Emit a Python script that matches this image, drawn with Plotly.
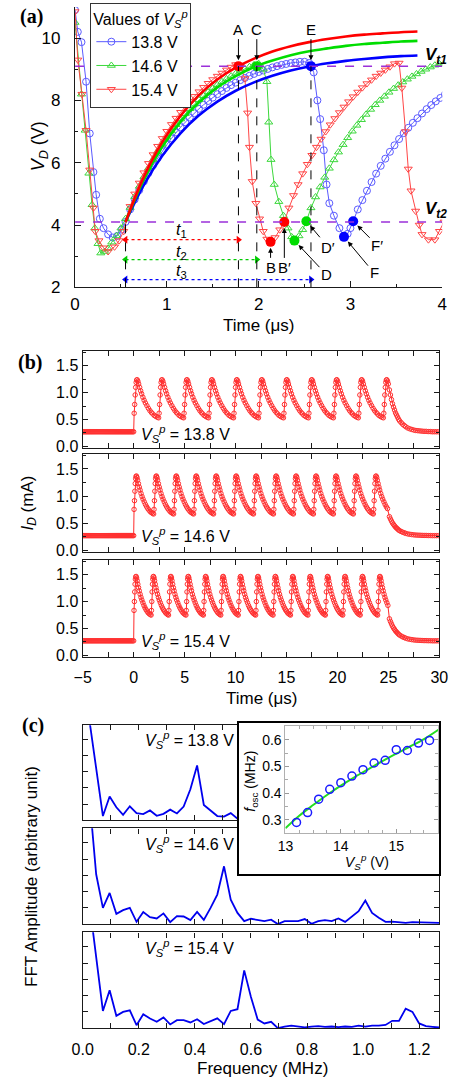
import numpy as np
import plotly.graph_objects as go

W, H = 456, 1090
FONT = "Liberation Sans, Arial, sans-serif"
SERIF = "Liberation Serif, Times New Roman, serif"
AXC = "#1a1a1a"


def grid(t0, n, step=0.05):
    return [round(t0 + step * i, 3) for i in range(n)]


def dx(a, b):
    return [a / W, b / W]


def dy(top, bot):
    return [1 - bot / H, 1 - top / H]

# ---------------- panel (a): V_D vs time ----------------
a_names = ["13.8 V", "14.6 V", "15.4 V"]

blue_t = ([0.00, 0.03, 0.07, 0.12, 0.16, 0.20, 0.23, 0.27, 0.31, 0.36, 0.41, 0.46, 0.51, 0.55]
          + grid(0.60, 40)
          + [2.60, 2.64, 2.67, 2.71, 2.74, 2.77, 2.82, 2.88, 2.93, 2.97, 3.00, 3.03]
          + grid(3.08, 20))
blue_v = ([10.9, 10.2, 9.87, 8.6, 6.94, 5.7, 4.97, 4.2, 3.9, 3.7, 3.6, 3.65, 3.85, 4.1]
          + [4.50, 4.82, 5.12, 5.40, 5.67, 5.92, 6.15, 6.37, 6.58, 6.78,
             6.97, 7.14, 7.30, 7.45, 7.59, 7.73, 7.86, 7.98, 8.09, 8.20,
             8.30, 8.40, 8.49, 8.57, 8.65, 8.72, 8.79, 8.85, 8.91, 8.96,
             9.01, 9.06, 9.10, 9.14, 9.17, 9.20, 9.22, 9.24, 9.24, 9.20]
          + [8.9, 8.0, 7.4, 6.4, 5.3, 4.7, 4.3, 3.9, 3.62, 3.72, 3.9, 4.12]
          + [4.5, 4.8, 5.1, 5.38, 5.65, 5.9, 6.13, 6.35, 6.56, 6.76,
             6.95, 7.12, 7.28, 7.43, 7.58, 7.72, 7.85, 7.97, 8.08, 8.19])

green_t = ([0.00, 0.07, 0.11, 0.15, 0.185, 0.215, 0.25, 0.28, 0.32, 0.36, 0.40, 0.45, 0.50, 0.55]
           + grid(0.60, 29)
           + [2.05, 2.09, 2.11, 2.135, 2.17, 2.22, 2.27, 2.32, 2.36, 2.39, 2.44, 2.48, 2.52]
           + grid(2.57, 30))
green_v = ([10.5, 8.2, 7.04, 5.66, 4.65, 3.9, 3.4, 3.1, 3.15, 3.25, 3.45, 3.65, 3.9, 4.2]
           + [4.56, 4.91, 5.24, 5.55, 5.83, 6.10, 6.36, 6.59, 6.82, 7.02,
              7.22, 7.40, 7.57, 7.73, 7.88, 8.02, 8.15, 8.27, 8.39, 8.50,
              8.60, 8.69, 8.78, 8.86, 8.94, 9.01, 9.08, 9.14, 9.18]
           + [9.0, 8.6, 7.3, 6.1, 5.3, 4.75, 4.3, 3.9, 3.62, 3.5, 3.65, 3.85, 4.12]
           + [4.55, 4.9, 5.22, 5.53, 5.82, 6.09, 6.34, 6.58, 6.8, 7.01,
              7.2, 7.38, 7.55, 7.71, 7.86, 8.0, 8.13, 8.26, 8.38, 8.49,
              8.59, 8.68, 8.77, 8.85, 8.93, 9.0, 9.07, 9.13, 9.17, 9.2])

red_t = ([0.00, 0.03, 0.075, 0.12, 0.16, 0.20, 0.22, 0.26, 0.31, 0.36, 0.43, 0.48, 0.53]
         + grid(0.60, 24)
         + [1.80, 1.85, 1.88, 1.90, 1.93, 1.97, 2.01, 2.05, 2.09, 2.13, 2.18, 2.23, 2.28]
         + grid(2.33, 24)
         + [3.53, 3.56, 3.60, 3.63, 3.66, 3.71, 3.75, 3.78, 3.85, 3.92, 3.97, 4.02])
red_v = ([10.85, 9.3, 8.2, 7.04, 5.77, 4.55, 3.8, 3.5, 3.27, 3.15, 3.3, 3.5, 3.8]
         + [4.6, 5.0, 5.35, 5.68, 5.98, 6.26, 6.53, 6.78, 7.01, 7.23,
            7.43, 7.62, 7.80, 7.97, 8.13, 8.28, 8.42, 8.55, 8.67, 8.78,
            8.88, 8.98, 9.07, 9.15]
         + [9.1, 8.7, 7.6, 6.5, 5.4, 4.7, 4.2, 3.8, 3.55, 3.46, 3.6, 3.85, 4.1]
         + [4.55, 4.95, 5.3, 5.65, 5.95, 6.24, 6.5, 6.76, 7.0, 7.22,
            7.42, 7.61, 7.79, 7.96, 8.12, 8.27, 8.41, 8.54, 8.66, 8.78,
            8.88, 8.98, 9.08, 9.18]
         + [9.2, 8.4, 7.0, 5.8, 5.1, 4.45, 4.0, 3.7, 3.53, 3.53, 3.8, 4.1])

fit_t = [0.55, 0.75, 0.95, 1.15, 1.35, 1.55, 1.75, 1.95, 2.15, 2.35, 2.55, 2.75, 2.95, 3.15, 3.35, 3.55, 3.73]
fit_blue = [4.10, 5.29, 6.22, 6.95, 7.52, 7.96, 8.31, 8.58, 8.79, 8.96, 9.09, 9.19, 9.27, 9.33, 9.38, 9.42, 9.44]
fit_green = [4.10, 5.46, 6.51, 7.32, 7.94, 8.42, 8.78, 9.07, 9.28, 9.45, 9.58, 9.67, 9.75, 9.81, 9.85, 9.89, 9.91]
fit_red = [4.10, 5.55, 6.66, 7.51, 8.17, 8.67, 9.05, 9.34, 9.57, 9.74, 9.87, 9.97, 10.05, 10.11, 10.15, 10.19, 10.21]

V_T1 = 9.1
V_T2 = 4.1
T_START = 0.55
t_ends = [1.78, 1.98, 2.57]          # end of t1, t2, t3
t_arrow_v = [3.53, 2.89, 2.25]       # height of t1,t2,t3 arrows
t_label_v = [3.82, 3.11, 2.52]

pt_names = ["A", "B", "B′", "C", "D", "D′", "E", "F", "F′"]
pt_t = [1.78, 2.13, 2.28, 1.98, 2.39, 2.52, 2.57, 2.93, 3.03]
pt_v = [9.1, 3.46, 4.1, 9.1, 3.5, 4.12, 9.1, 3.62, 4.12]
pt_series = [2, 2, 2, 1, 1, 1, 0, 0, 0]
pt_ax = [0, 0, 0, 0, 32, 22, 0, 30, 24]
pt_ay = [-37, 26, 46, -37, 34, 26, -37, 36, 24]

# ---------------- panel (b): I_D vs time ----------------
b_names = ["13.8 V", "14.6 V", "15.4 V"]
b_period = [2.45, 1.96, 1.71]
b_ncycles = [11, 13, 15]
b_min = [0.53, 0.67, 0.75]
b_peak = [1.24, 1.37, 1.47]
b_base = 0.27
b_off = [25.05, 25.0, 25.0]
b_tail_start = [1.05, 0.62, 0.68]
cyc_phase = [0.00, 0.02, 0.04, 0.06, 0.08, 0.10, 0.12, 0.14, 0.17, 0.20, 0.24, 0.28,
             0.32, 0.37, 0.42, 0.47, 0.53, 0.59, 0.65, 0.71, 0.77, 0.83, 0.89, 0.95]
cyc_level = [0.00, 0.12, 0.35, 0.60, 0.80, 0.93, 0.99, 1.00, 0.96, 0.89, 0.80, 0.71,
             0.63, 0.54, 0.46, 0.39, 0.32, 0.25, 0.19, 0.14, 0.10, 0.06, 0.035, 0.015]
tail_dt = [0, .1, .2, .3, .4, .5, .6, .7, .8, .9, 1.0, 1.15, 1.3, 1.45, 1.6, 1.8, 2.0,
           2.2, 2.4, 2.6, 2.8, 3.0, 3.2, 3.4, 3.6, 3.8, 4.0, 4.2, 4.4, 4.6, 4.8]
tail_level = [1.0, 0.88, 0.77, 0.67, 0.59, 0.52, 0.45, 0.40, 0.35, 0.30, 0.26, 0.22, 0.18,
              0.15, 0.12, 0.09, 0.07, 0.055, 0.04, 0.03, 0.025, 0.02, 0.015, 0.01, 0.01,
              0.005, 0.005, 0.0, 0.0, 0.0, 0.0]

# ---------------- panel (c): FFT spectra ----------------
c_names = ["13.8 V", "14.6 V", "15.4 V"]
fft_f = [round(0.024 * k, 3) for k in range(1, 54)]
fft_138 = [6.2, 3.13, 0.25, 1.47, 0.8, 0.33, 0.86, 0.43, 0.37, 0.6, 0.27, 0.39, 0.65, 0.41,
           0.84, 1.92, 3.4, 0.94, 0.6, 0.25, 0.22, 0.43, 0.08,
           0.3, 0.2, 0.15, 0.1, 0.2, 0.12, 0.1, 0.15, 0.35, 0.7, 1.1, 0.5, 0.2, 0.1, 0.12,
           0.08, 0.1, 0.06, 0.08, 0.1, 0.06, 0.05, 0.08, 0.06, 0.05, 0.04, 0.06, 0.05, 0.04, 0.03]
fft_146 = [7.8, 3.07, 1.0, 1.92, 0.63, 0.86, 1.0, 0.14, 0.74, 0.43, 0.35, 0.66, 0.12, 0.49,
           0.47, 0.25, 0.75, 0.26, 1.0, 1.82, 3.56, 1.51, 0.69, 0.18, 0.33, 0.25, 0.18, 0.27,
           0.0, 0.18, 0.18, 0.18, 0.31, 0.02, 0.18, 0.25, 0.18, 0.35, 0.14, 0.49, 0.8, 1.45,
           0.69, 0.39, 0.14, 0.15, 0.12, 0.08, 0.12, 0.1, 0.12, 0.1, 0.08]
fft_154 = [7.7, 4.5, 1.06, 2.33, 0.76, 1.0, 1.1, 0.18, 0.86, 0.59, 0.39, 0.66, 0.23, 0.49,
           0.49, 0.35, 0.55, 0.25, 0.45, 0.6, 0.25, 1.06, 1.17, 3.56, 1.92, 0.53, 0.29, 0.39,
           0.0, 0.1, 0.15, 0.12, 0.05, 0.1, 0.12, 0.08, 0.1, 0.06, 0.1, 0.08, 0.15, 0.1, 0.15,
           0.15, 0.2, 0.45, 0.45, 1.2, 1.0, 0.29, 0.12, 0.08, 0.04]

# inset: f_osc vs V_S^p
ins_vs = [13.2, 13.4, 13.6, 13.8, 14.0, 14.2, 14.4, 14.6, 14.8, 15.0, 15.2, 15.4, 15.6]
ins_f = [0.290, 0.327, 0.377, 0.414, 0.439, 0.464, 0.488, 0.513, 0.523, 0.563, 0.560, 0.588, 0.598]
ins_fit_vs = [13.0, 13.25, 13.5, 13.75, 14.0, 14.25, 14.5, 14.75, 15.0, 15.25, 15.5, 15.76]
ins_fit_f = [0.268, 0.315, 0.355, 0.393, 0.428, 0.46, 0.49, 0.52, 0.548, 0.575, 0.603, 0.638]

# ================= figure =================
fig = go.Figure()
data_cols = ["#5a5aff", "#3cd83c", "#ff4545"]
fit_cols = ["#0000ff", "#00dd00", "#ff0000"]
syms = ["circle-open", "triangle-up-open", "triangle-down-open"]

for nm, t, v, c, s in zip(a_names, [blue_t, green_t, red_t], [blue_v, green_v, red_v], data_cols, syms):
    fig.add_trace(go.Scatter(x=t, y=v, mode="lines+markers", name=nm,
                             line=dict(color=c, width=1),
                             marker=dict(symbol=s, size=7, color=c, line=dict(width=1, color=c)),
                             xaxis="x", yaxis="y"))
for v, c in zip([fit_blue, fit_green, fit_red], fit_cols):
    fig.add_trace(go.Scatter(x=fit_t, y=v, mode="lines", showlegend=False,
                             line=dict(color=c, width=2.6, shape="spline"), xaxis="x", yaxis="y"))

# t1,t2,t3 arrows
arrow_cols = ["#ff0000", "#00cc00", "#0000ff"]
for i in range(3):
    fig.add_trace(go.Scatter(x=[T_START, t_ends[i]], y=[t_arrow_v[i], t_arrow_v[i]],
                             mode="lines+markers", showlegend=False,
                             line=dict(color=arrow_cols[i], width=1.3, dash="dot"),
                             marker=dict(symbol=["triangle-left", "triangle-right"], size=7,
                                         color=arrow_cols[i]),
                             xaxis="x", yaxis="y"))

# marked points
fig.add_trace(go.Scatter(x=pt_t, y=pt_v, mode="markers", showlegend=False,
                         marker=dict(size=10, color=[fit_cols[k] for k in pt_series]),
                         xaxis="x", yaxis="y"))

# ---- (b) traces ----
for i in range(3):
    ts = list(np.round(np.arange(-5.0, 0.0, 0.1), 2))
    vs = [b_base] * len(ts)
    P = b_period[i]
    for n in range(b_ncycles[i]):
        for ph, lv in zip(cyc_phase, cyc_level):
            t = n * P + ph * P
            if t > b_off[i]:
                break
            lo = b_base if (n == 0 and ph == 0) else b_min[i]
            ts.append(t)
            vs.append(lo + lv * (b_peak[i] - lo))
    for dt_, lv in zip(tail_dt, tail_level):
        ts.append(25.1 + dt_)
        vs.append(b_base + lv * (b_tail_start[i] - b_base))
    ax = str(i + 2)
    fig.add_trace(go.Scatter(x=ts, y=vs, mode="lines+markers", showlegend=False,
                             line=dict(color="#ff2a2a", width=1),
                             marker=dict(symbol="circle-open", size=4.5, color="#ff3030",
                                         line=dict(width=1)),
                             xaxis="x" + ax, yaxis="y" + ax))

# ---- (c) traces ----
for i, spec in enumerate([fft_138, fft_146, fft_154]):
    ax = str(i + 5)
    fig.add_trace(go.Scatter(x=fft_f, y=spec, mode="lines", showlegend=False,
                             line=dict(color="#0000ee", width=1.8),
                             xaxis="x" + ax, yaxis="y" + ax))

# dummy subplot carrying the inset box
fig.add_trace(go.Scatter(x=[None], y=[None], showlegend=False, xaxis="x8", yaxis="y8"))

# inset
fig.add_trace(go.Scatter(x=ins_fit_vs, y=ins_fit_f, mode="lines", showlegend=False,
                         line=dict(color="#22dd22", width=2, shape="spline"), xaxis="x9", yaxis="y9"))
fig.add_trace(go.Scatter(x=ins_vs, y=ins_f, mode="markers", showlegend=False,
                         marker=dict(symbol="circle-open", size=8, color="#1a1aff",
                                     line=dict(width=1.5)),
                         xaxis="x9", yaxis="y9"))


def axis(**kw):
    d = dict(showline=True, linecolor=AXC, linewidth=1.4, ticks="inside", tickcolor=AXC,
             tickwidth=1.2, ticklen=5, showgrid=False, zeroline=False,
             tickfont=dict(family=FONT, size=16, color="black"))
    d.update(kw)
    return d


lay = {}
# (a)
lay["xaxis"] = axis(domain=dx(67, 451), range=[0, 4], anchor="y", dtick=1, tick0=0, ticklen=6,
                    minor=dict(dtick=0.5, tick0=0, ticklen=3, ticks="inside", tickcolor=AXC),
                    tickfont=dict(family=FONT, size=17, color="black"), ticklabelstandoff=1)
lay["yaxis"] = axis(domain=dy(7, 290), range=[2, 11], anchor="x", dtick=2, tick0=0, ticklen=6,
                    minor=dict(dtick=1, tick0=0, ticklen=3, ticks="inside", tickcolor=AXC),
                    tickfont=dict(family=FONT, size=17, color="black"), ticklabelstandoff=10)
# (b)
b_rows = [(354, 452), (458, 557), (565, 663)]
for i, (top, bot) in enumerate(b_rows):
    n = str(i + 2)
    lay["xaxis" + n] = axis(domain=dx(75, 448), range=[-5, 30], anchor="y" + n, dtick=5, tick0=0,
                            mirror="allticks", showticklabels=(i == 2), ticklabelstandoff=6,
                            minor=dict(dtick=2.5, tick0=0, ticklen=5, ticks="inside", tickcolor=AXC))
    lay["yaxis" + n] = axis(domain=dy(top, bot), range=[-0.03, 1.78], anchor="x" + n, dtick=0.5,
                            tick0=0, tickformat=".1f", mirror="allticks",
                            minor=dict(dtick=0.25, tick0=0, ticklen=3, ticks="inside", tickcolor=AXC))
# (c)
c_rows = [(732, 828), (836, 933), (941, 1038)]
for i, (top, bot) in enumerate(c_rows):
    n = str(i + 5)
    lay["xaxis" + n] = axis(domain=dx(75, 448), range=[0, 1.272], anchor="y" + n, dtick=0.2, tick0=0,
                            tickformat=".1f", mirror="allticks", showticklabels=(i == 2),
                            ticklabelstandoff=6,
                            minor=dict(dtick=0.1, tick0=0, ticklen=5, ticks="inside", tickcolor=AXC))
    lay["yaxis" + n] = axis(domain=dy(top, bot), range=[-0.02, 5.9], anchor="x" + n, dtick=1, tick0=0,
                            showticklabels=False, mirror="allticks")
# inset box
lay["xaxis8"] = dict(domain=dx(238, 448), range=[0, 1], anchor="y8", showline=True, mirror=True,
                     linecolor="black", linewidth=1.5, ticks="", showticklabels=False,
                     showgrid=False, zeroline=False)
lay["yaxis8"] = dict(domain=dy(730, 882), range=[0, 1], anchor="x8", showline=True, mirror=True,
                     linecolor="black", linewidth=1.5, ticks="", showticklabels=False,
                     showgrid=False, zeroline=False)
# inset axes
lay["xaxis9"] = axis(domain=dx(287, 447), range=[13, 15.76], anchor="y9", dtick=1, tick0=13,
                     linecolor="#b0b0b0", linewidth=1, tickcolor="#999999", ticklen=4, mirror="allticks",
                     minor=dict(dtick=0.25, tick0=13, ticklen=3, ticks="inside", tickcolor="#aaaaaa"),
                     tickfont=dict(family=FONT, size=14, color="black"), ticklabelstandoff=0)
lay["yaxis9"] = axis(domain=dy(733, 841), range=[0.249, 0.651], anchor="x9", dtick=0.1, tick0=0,
                     tickformat=".1f", linecolor="#b0b0b0", linewidth=1, tickcolor="#999999",
                     ticklen=4, mirror="allticks",
                     minor=dict(dtick=0.05, tick0=0, ticklen=3, ticks="inside", tickcolor="#aaaaaa"),
                     tickfont=dict(family=FONT, size=14, color="black"))

fig.update_layout(**lay)

shapes = []
# V_t1, V_t2 lines
for vv in [V_T1, V_T2]:
    shapes.append(dict(type="line", xref="x", yref="y", x0=0, x1=4, y0=vv, y1=vv,
                       line=dict(color="#9b30d9", width=1.5, dash="dash"), layer="above"))
# vertical dashed lines
shapes.append(dict(type="line", xref="x", yref="y", x0=T_START, x1=T_START, y0=2, y1=V_T2,
                   line=dict(color="black", width=1, dash="dash"), layer="above"))
for te in t_ends:
    shapes.append(dict(type="line", xref="x", yref="y", x0=te, x1=te, y0=2, y1=V_T1,
                       line=dict(color="black", width=1, dash="dash"), layer="above"))
# white fill of inset box
shapes.append(dict(type="rect", xref="x8", yref="y8", x0=0, x1=1, y0=0, y1=1,
                   fillcolor="white", line=dict(width=0), layer="below"))

ann = []


def txt(x, y, s, size=17, ang=0, xa="center", fam=FONT, ya="middle"):
    ann.append(dict(x=x / W, y=1 - y / H, xref="paper", yref="paper", text=s, showarrow=False,
                    textangle=ang, xanchor=xa, yanchor=ya,
                    font=dict(family=fam, size=size, color="black")))


# point labels with arrows
for i, nm in enumerate(pt_names):
    ann.append(dict(x=pt_t[i], y=pt_v[i], xref="x", yref="y", text=nm, showarrow=True,
                    ax=pt_ax[i], ay=pt_ay[i], arrowhead=2, arrowsize=1, arrowwidth=1,
                    arrowcolor="black", standoff=6, font=dict(family=FONT, size=15, color="black")))
# t labels
for i in range(3):
    ann.append(dict(x=1.16, y=t_label_v[i], xref="x", yref="y", showarrow=False,
                    text="<i>t</i><sub>%d</sub>" % (i + 1),
                    font=dict(family=FONT, size=16, color="black")))
ann.append(dict(x=3.93, y=9.42, xref="x", yref="y", showarrow=False,
                text="<b><i>V</i><sub><i>t1</i></sub></b>", font=dict(family=FONT, size=17, color="black")))
ann.append(dict(x=3.93, y=4.48, xref="x", yref="y", showarrow=False,
                text="<b><i>V</i><sub><i>t2</i></sub></b>", font=dict(family=FONT, size=17, color="black")))

txt(259, 329, "Time (μs)")
txt(30, 148, "<i>V</i><sub><i>D</i></sub> (V)", size=18, ang=-90)
txt(263, 705, "Time (μs)")
txt(19, 508, "<i>I</i><sub><i>D</i></sub> (mA)", ang=-90)
txt(263, 1078, "Frequency (MHz)")
txt(22, 885, "FFT Amplitude (arbitrary unit)", ang=-90)
txt(251, 788, "<i>f</i><sub>osc</sub> (MHz)", size=14, ang=-90)
txt(372, 870, "<i>V<sub>S</sub><sup>p</sup></i> (V)", size=14)
txt(21, 17, "<b>(a)</b>", size=20, fam=SERIF)
txt(20, 366, "<b>(b)</b>", size=20, fam=SERIF)
txt(23, 732, "<b>(c)</b>", size=20, fam=SERIF)
for nm, yy in zip(b_names, [438, 541, 647]):
    txt(134, yy, "<i>V<sub>S</sub><sup>p</sup></i> = " + nm, size=16, xa="left")
for nm, yy in zip(c_names, [747, 852, 957]):
    txt(138, yy, "<i>V<sub>S</sub><sup>p</sup></i> = " + nm, size=16, xa="left")

fig.update_layout(
    width=W, height=H, margin=dict(l=0, r=0, t=0, b=0),
    paper_bgcolor="white", plot_bgcolor="white",
    shapes=shapes, annotations=ann, hovermode=False,
    font=dict(family=FONT, size=16, color="black"),
    legend=dict(x=83 / W, y=1 - 3 / H, xanchor="left", yanchor="top",
                bgcolor="white", bordercolor="#333333", borderwidth=1,
                font=dict(family=FONT, size=16, color="black"), tracegroupgap=0,
                itemwidth=30,
                title=dict(text="Values of <i>V<sub>S</sub><sup>p</sup></i>",
                           font=dict(family=FONT, size=16, color="black"))),
)

fig.write_html("out.html", config={"displayModeBar": False},
               post_script="document.body.style.margin='0px';")
